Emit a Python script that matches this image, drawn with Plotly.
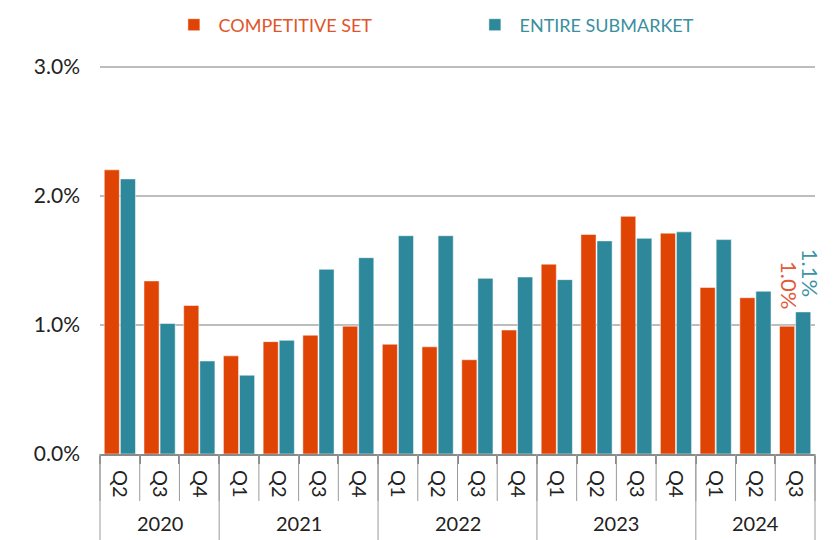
import plotly.graph_objects as go

years = ["2020", "2020", "2020",
         "2021", "2021", "2021", "2021",
         "2022", "2022", "2022", "2022",
         "2023", "2023", "2023", "2023",
         "2024", "2024", "2024"]
quarters = ["Q2", "Q3", "Q4",
            "Q1", "Q2", "Q3", "Q4",
            "Q1", "Q2", "Q3", "Q4",
            "Q1", "Q2", "Q3", "Q4",
            "Q1", "Q2", "Q3"]
competitive_set = [2.20, 1.34, 1.15,
                   0.76, 0.87, 0.92, 0.99,
                   0.85, 0.83, 0.73, 0.96,
                   1.47, 1.70, 1.84, 1.71,
                   1.29, 1.21, 0.99]
entire_submarket = [2.13, 1.01, 0.72,
                    0.61, 0.88, 1.43, 1.52,
                    1.69, 1.69, 1.36, 1.37,
                    1.35, 1.65, 1.67, 1.72,
                    1.66, 1.26, 1.10]
y_ticks = [0, 1, 2, 3]
y_tick_labels = ["0.0%", "1.0%", "2.0%", "3.0%"]

ORANGE = "#E04404"
TEAL = "#2C889A"
FONT = "Lato"

n = len(quarters)
xcat = [f"{y} {q}" for y, q in zip(years, quarters)]

fig = go.Figure()
fig.add_trace(go.Bar(
    x=xcat, y=competitive_set,
    name="<span style='color:#E2542B'>\u00a0COMPETITIVE SET</span>",
    marker=dict(color=ORANGE, line=dict(color="rgba(255,255,255,0.5)", width=1)),
))
fig.add_trace(go.Bar(
    x=xcat, y=entire_submarket,
    name="<span style='color:#3A8FA0'>\u00a0ENTIRE SUBMARKET</span>",
    marker=dict(color=TEAL, line=dict(color="rgba(255,255,255,0.5)", width=1)),
))

M_L, M_R, M_T, M_B = 92, 33, 57, 94
plot_h = 540 - M_T - M_B
shapes = []
# quarter separators below the axis
for i in range(n + 1):
    shapes.append(dict(type="line", xref="paper", yref="paper",
                       x0=i / n, x1=i / n, y0=0, y1=-47 / plot_h,
                       line=dict(color="#9a9a9a", width=1)))
# year dividers
bounds = [0] + [i for i in range(1, n) if years[i] != years[i - 1]] + [n]
for b in bounds:
    shapes.append(dict(type="line", xref="paper", yref="paper",
                       x0=b / n, x1=b / n, y0=0, y1=-M_B / plot_h,
                       line=dict(color="#9a9a9a", width=1)))

annotations = []
# year labels
for k in range(len(bounds) - 1):
    a, b = bounds[k], bounds[k + 1]
    annotations.append(dict(x=(a + b - 1) / 2, xref="x", y=-69 / plot_h, yref="paper",
                            text=years[a], showarrow=False, yanchor="middle",
                            font=dict(family=FONT, size=20, color="#222222")))
# last-value labels
annotations.append(dict(x=xcat[-1], y=competitive_set[-1], xref="x", yref="y",
                        text=f"{competitive_set[-1]:.1f}%", textangle=90,
                        showarrow=False, xanchor="center", yanchor="bottom",
                        xshift=-5, yshift=15,
                        font=dict(family=FONT, size=22, color="#E5583A")))
annotations.append(dict(x=xcat[-1], y=entire_submarket[-1], xref="x", yref="y",
                        text=f"{entire_submarket[-1]:.1f}%", textangle=90,
                        showarrow=False, xanchor="center", yanchor="bottom",
                        xshift=15, yshift=13,
                        font=dict(family=FONT, size=22, color="#3D93A4")))

fig.update_layout(
    width=840, height=540,
    margin=dict(l=M_L, r=M_R, t=M_T, b=M_B, autoexpand=False),
    paper_bgcolor="white", plot_bgcolor="white",
    font=dict(family=FONT, size=20, color="#222222"),
    barmode="group", bargap=0.19, bargroupgap=0.06,
    showlegend=True,
    legend=dict(orientation="h", xref="container", yref="container",
                x=0.1975, y=1 - 17 / 540, xanchor="left", yanchor="middle",
                font=dict(family=FONT, size=18), entrywidth=256,
                entrywidthmode="pixels", bgcolor="rgba(0,0,0,0)"),
    shapes=shapes,
    annotations=annotations,
)
fig.update_xaxes(
    type="category", range=[-0.5, n - 0.5],
    tickvals=xcat, ticktext=quarters,
    tickangle=90, ticks="outside", tickson="boundaries", ticklen=8,
    tickcolor="#888888", tickwidth=2,
    showline=True, linecolor="#8a8a8a", linewidth=2,
    tickfont=dict(family=FONT, size=20, color="#222222"),
    ticklabelstandoff=10,
    showgrid=False, automargin=False,
)
fig.update_yaxes(
    range=[0, 3.012], tickvals=y_ticks, ticktext=y_tick_labels,
    showgrid=True, gridcolor="#BDBDBD", gridwidth=2,
    zeroline=False, showline=False, ticks="",
    ticklabelstandoff=19, automargin=False,
    tickfont=dict(family=FONT, size=21, color="#222222"),
)

fig.write_html("out.html")
